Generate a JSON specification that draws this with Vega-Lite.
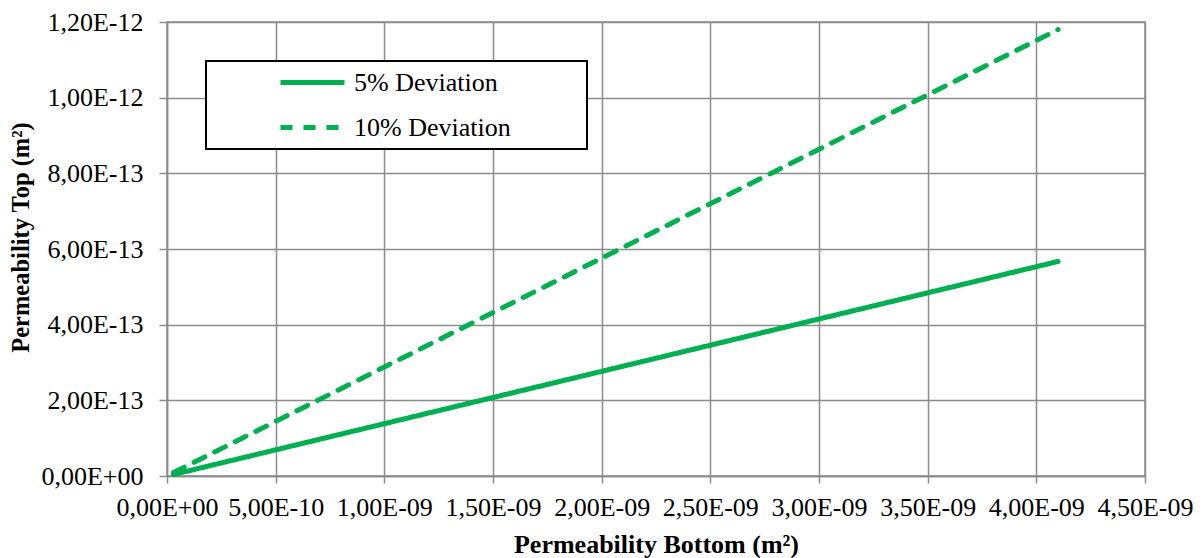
{
  "$schema": "https://vega.github.io/schema/vega-lite/v6.json",
  "width": 978,
  "height": 454,
  "autosize": {"type": "none"},
  "padding": {"left": 167, "top": 22, "right": 58, "bottom": 82},
  "background": "white",
  "data": {
    "values": [
      {"series": "5% Deviation", "x": 3e-11, "y": 4e-15},
      {"series": "5% Deviation", "x": 4.1e-9, "y": 5.67e-13},
      {"series": "10% Deviation", "x": 3e-11, "y": 9e-15},
      {"series": "10% Deviation", "x": 4.1e-9, "y": 1.18e-12}
    ]
  },
  "mark": {"type": "line", "strokeWidth": 5, "strokeCap": "round", "clip": false},
  "encoding": {
    "x": {
      "field": "x", "type": "quantitative",
      "scale": {"domain": [0, 4.5e-9], "nice": false, "zero": true},
      "axis": {
        "title": "Permeability Bottom (m²)",
        "titleFontSize": 26,
        "values": [0, 5e-10, 1e-9, 1.5e-9, 2e-9, 2.5e-9, 3e-9, 3.5e-9, 4e-9, 4.5e-9],
        "labelExpr": "replace(split(format(datum.value,'.2e'),'e')[0],'.',',') + 'E' + slice(split(format(datum.value,'.2e'),'e')[1],0,1) + pad(slice(split(format(datum.value,'.2e'),'e')[1],1),2,'0','left')",
        "labelOverlap": false,
        "labelFlush": false,
        "labelBound": false,
        "tickSize": 7,
        "labelPadding": 11,
        "titlePadding": 11
      }
    },
    "y": {
      "field": "y", "type": "quantitative",
      "scale": {"domain": [0, 1.2e-12], "nice": false, "zero": true},
      "axis": {
        "title": "Permeability Top (m²)",
        "titleFontSize": 24.5,
        "titleY": 215,
        "values": [0, 2e-13, 4e-13, 6e-13, 8e-13, 1e-12, 1.2e-12],
        "labelExpr": "replace(split(format(datum.value,'.2e'),'e')[0],'.',',') + 'E' + slice(split(format(datum.value,'.2e'),'e')[1],0,1) + pad(slice(split(format(datum.value,'.2e'),'e')[1],1),2,'0','left')",
        "labelOverlap": false,
        "labelFlush": false,
        "tickSize": 8,
        "labelPadding": 16,
        "titlePadding": 7
      }
    },
    "color": {
      "field": "series", "type": "nominal",
      "scale": {"domain": ["5% Deviation", "10% Deviation"], "range": ["#00B050", "#00B050"]},
      "legend": {"title": ".", "titleOrient": "right", "titleColor": "white", "titlePadding": 64, "labelFont": "Liberation Serif", "labelFontSize": 26}
    },
    "strokeDash": {
      "field": "series", "type": "nominal",
      "scale": {"domain": ["5% Deviation", "10% Deviation"], "range": [[1, 0], [12, 11]]},
      "legend": {"title": ".", "titleOrient": "right", "titleColor": "white", "titlePadding": 64, "labelFont": "Liberation Serif", "labelFontSize": 26}
    }
  },
  "config": {
    "view": {"stroke": "#8c8c8c", "strokeWidth": 1.5},
    "axis": {
      "labelFont": "Liberation Serif",
      "labelFontSize": 26,
      "labelColor": "black",
      "titleFont": "Liberation Serif",
      "titleFontSize": 24,
      "titleFontWeight": "bold",
      "titleColor": "black",
      "gridColor": "#8c8c8c",
      "gridWidth": 1.5,
      "gridOpacity": 1,
      "domainColor": "#8c8c8c",
      "domainWidth": 1.5,
      "tickColor": "#8c8c8c",
      "tickWidth": 1.5
    },
    "legend": {
      "orient": "none",
      "legendX": 39,
      "legendY": 39,
      "strokeColor": "black",
      "strokeWidth": 2,
      "fillColor": "white",
      "padding": 8,
      "symbolType": "M-3,0H3",
      "symbolSize": 455,
      "symbolStrokeWidth": 5,
      "symbolOffset": 85,
      "labelFont": "Liberation Serif",
      "labelFontSize": 26,
      "labelLimit": 400,
      "labelColor": "black",
      "labelOffset": 28,
      "rowPadding": 18
    }
  }
}
